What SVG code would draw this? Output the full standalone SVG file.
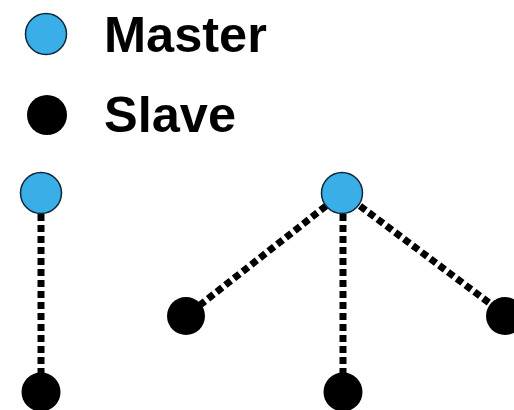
<svg xmlns="http://www.w3.org/2000/svg" width="514" height="410" viewBox="0 0 514 410">
<style>
.master{fill:#3aaee6;stroke:#10263a;stroke-width:1.5}
.slave{fill:#000}
.lbl{font-family:"Liberation Sans",Arial,sans-serif;font-weight:bold;font-size:50.5px;fill:#000}
.link{stroke:#000;stroke-width:7;stroke-dasharray:7 4;fill:none}
</style>
<rect width="514" height="410" fill="#fff"/>
<g id="connectors">
<line class="link" x1="41" y1="214" x2="41" y2="375"/>
<line class="link" x1="343" y1="214" x2="343" y2="375"/>
<line class="link" x1="326" y1="206" x2="200" y2="305"/>
<line class="link" x1="360" y1="206" x2="492" y2="305"/>
</g>
<g id="legend-master"><circle class="master" cx="46" cy="34" r="20.5"/><text class="lbl" x="104" y="52">Master</text></g>
<g id="legend-slave"><circle class="slave" cx="47" cy="115" r="20"/><text class="lbl" x="104" y="132">Slave</text></g>
<g id="master1"><circle class="master" cx="41" cy="193" r="20.5"/></g>
<g id="slave1"><circle class="slave" cx="41" cy="392" r="19.5"/></g>
<g id="master2"><circle class="master" cx="342" cy="193" r="20.5"/></g>
<g id="slave2"><circle class="slave" cx="186" cy="316" r="19"/></g>
<g id="slave3"><circle class="slave" cx="343" cy="392" r="19.5"/></g>
<g id="slave4"><circle class="slave" cx="505" cy="316" r="19"/></g>
</svg>
